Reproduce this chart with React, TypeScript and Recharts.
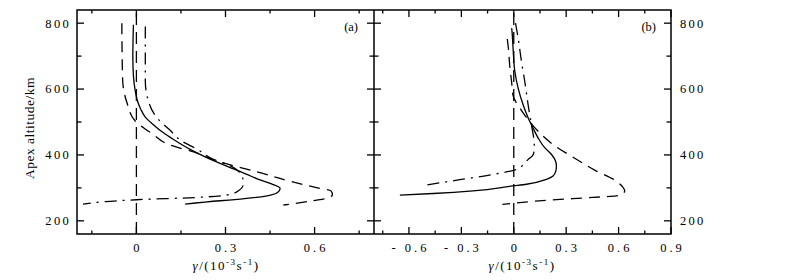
import { LineChart, Line, XAxis, YAxis, ReferenceLine, ReferenceArea } from "recharts";

// axis ticks
const altTicks = [200, 300, 400, 500, 600, 700, 800];
const altLabels = [200, 400, 600, 800];
const gammaTicksA = [-0.15, 0, 0.15, 0.3, 0.45, 0.6, 0.75];
const gammaLabelsA = [0, 0.3, 0.6];
const gammaTicksB = [-0.75, -0.6, -0.45, -0.3, -0.15, 0, 0.15, 0.3, 0.45, 0.6, 0.75, 0.9];
const gammaLabelsB = [-0.6, -0.3, 0, 0.3, 0.6, 0.9];

// panel (a)
const solidAltA = [795, 700, 640, 595, 563, 538, 515, 492, 468, 447, 417, 392, 366, 341, 326, 312, 298, 286, 276, 266, 261, 251];
const solidGammaA = [-0.01, -0.012, -0.01, -0.004, 0.004, 0.015, 0.03, 0.057, 0.09, 0.125, 0.181, 0.237, 0.304, 0.372, 0.411, 0.455, 0.484, 0.475, 0.44, 0.35, 0.282, 0.164];
const dashAltA = [800, 700, 623, 559, 503, 482, 465, 429, 410, 380, 349, 319, 300, 291, 280, 271, 261, 248];
const dashGammaA = [-0.049, -0.048, -0.046, -0.032, -0.004, 0.025, 0.052, 0.116, 0.19, 0.276, 0.405, 0.523, 0.61, 0.655, 0.66, 0.652, 0.595, 0.495];
const dotDashAltA = [790, 700, 625, 565, 513, 477, 442, 417, 387, 370, 350, 330, 311, 292, 278, 271, 264, 251];
const dotDashGammaA = [0.03, 0.03, 0.03, 0.04, 0.069, 0.111, 0.153, 0.205, 0.259, 0.31, 0.345, 0.358, 0.36, 0.345, 0.304, 0.203, 0, -0.18];

// panel (b)
const solidAltB = [785, 775, 724, 654, 603, 553, 513, 482, 452, 422, 402, 380, 366, 350, 336, 326, 311, 306, 291, 283, 278];
const solidGammaB = [-0.012, -0.01, -0.004, 0.006, 0.025, 0.053, 0.082, 0.11, 0.139, 0.177, 0.215, 0.24, 0.244, 0.24, 0.225, 0.187, 0.073, -0.004, -0.233, -0.461, -0.652];
const dashAltB = [752, 720, 670, 620, 580, 558, 543, 505, 472, 430, 390, 354, 324, 305, 291, 280, 276, 271, 263, 250];
const dashGammaB = [-0.037, -0.03, -0.023, -0.012, -0.004, 0.015, 0.034, 0.085, 0.139, 0.229, 0.349, 0.463, 0.577, 0.62, 0.635, 0.62, 0.587, 0.453, 0.206, -0.065];
const dotDashAltB = [800, 755, 684, 623, 553, 492, 442, 420, 400, 385, 368, 356, 341, 324, 308];
const dotDashGammaB = [0.01, 0.025, 0.044, 0.063, 0.082, 0.101, 0.116, 0.118, 0.11, 0.08, 0.05, 0.015, -0.118, -0.318, -0.509];

const toPoints = (gamma: number[], alt: number[]) => gamma.map((g, i) => ({ g, alt: alt[i] }));

const FONT = '"Liberation Serif", "Times New Roman", serif';
const INK = "#000";
const PLOT_TOP = 10;
const A_RIGHT = 374;
const B_LEFT = 374;
const LONG_DASH = "11 7";
const DOT_DASH = "12 6 2 6";

const isIn = (list: number[], v: number) => list.some((t) => Math.abs(t - v) < 1e-9);

function fmtGamma(v: number) {
  if (Math.abs(v) < 1e-9) return "0";
  return v < 0 ? `- ${Math.abs(v).toFixed(1)}` : v.toFixed(1);
}

// ticks point inward, drawn on both the bottom and top edge
function GammaTick(props: any) {
  const { x, y, payload, labels } = props;
  const major = isIn(labels, payload.value);
  const len = major ? 7 : 3.5;
  return (
    <g>
      <line x1={x} x2={x} y1={y} y2={y - len} stroke={INK} strokeWidth={1.3} />
      <line x1={x} x2={x} y1={PLOT_TOP} y2={PLOT_TOP + len} stroke={INK} strokeWidth={1.3} />
      {major && (
        <text x={x + 1.5} y={y + 18} textAnchor="middle" fontFamily={FONT} fontSize={12.5} letterSpacing={3} fill={INK}>
          {fmtGamma(payload.value)}
        </text>
      )}
    </g>
  );
}

function AltTick(props: any) {
  const { x, y, payload, side, opposite } = props;
  const major = isIn(altLabels, payload.value);
  const len = major ? 7 : 4.5;
  const dir = side === "left" ? 1 : -1;
  return (
    <g>
      <line x1={x} x2={x + dir * len} y1={y} y2={y} stroke={INK} strokeWidth={1.3} />
      <line x1={opposite} x2={opposite - dir * len} y1={y} y2={y} stroke={INK} strokeWidth={1.3} />
      {major && (
        <text
          x={side === "left" ? x - 6 : x + 9}
          y={y}
          dy="0.35em"
          textAnchor={side === "left" ? "end" : "start"}
          fontFamily={FONT}
          fontSize={12.5}
          letterSpacing={2.3}
          fill={INK}
        >
          {payload.value}
        </text>
      )}
    </g>
  );
}

function GammaTitle({ cx }: { cx: number }) {
  return (
    <text x={cx} y={270} textAnchor="middle" fontFamily={FONT} fontSize={13} letterSpacing={1.5} fill={INK}>
      <tspan fontStyle="italic">γ</tspan>/(10
      <tspan dy={-5} fontSize={9}>-3</tspan>
      <tspan dy={5}>s</tspan>
      <tspan dy={-5} fontSize={9}>-1</tspan>
      <tspan dy={5}>)</tspan>
    </text>
  );
}

export default function App() {
  const solidA = toPoints(solidGammaA, solidAltA);
  const dashA = toPoints(dashGammaA, dashAltA);
  const dotDashA = toPoints(dotDashGammaA, dotDashAltA);
  const solidB = toPoints(solidGammaB, solidAltB);
  const dashB = toPoints(dashGammaB, dashAltB);
  const dotDashB = toPoints(dotDashGammaB, dotDashAltB);

  const lineProps = {
    dataKey: "alt",
    type: "monotoneY" as const,
    stroke: INK,
    strokeWidth: 1.3,
    dot: false,
    activeDot: false,
    isAnimationActive: false,
  };

  return (
    <div style={{ position: "absolute", left: 0, top: 0, width: 794, height: 280, background: "#fff" }}>
      <div style={{ position: "absolute", left: 0, top: 0 }}>
        <LineChart width={374} height={280} margin={{ top: 10, right: 0, bottom: 0, left: 0 }}>
          <XAxis
            type="number"
            dataKey="g"
            domain={[-0.2, 0.8]}
            ticks={gammaTicksA}
            interval={0}
            allowDataOverflow
            axisLine={false}
            tickLine={false}
            tickSize={0}
            tickMargin={0}
            height={46}
            tick={<GammaTick labels={gammaLabelsA} />}
          />
          <YAxis
            type="number"
            domain={[160, 840]}
            ticks={altTicks}
            interval={0}
            allowDataOverflow
            axisLine={false}
            tickLine={false}
            tickSize={0}
            tickMargin={0}
            width={77}
            tick={<AltTick side="left" opposite={A_RIGHT} />}
          />
          <ReferenceArea x1={-0.2} x2={0.8} y1={160} y2={840} fill="none" stroke={INK} strokeWidth={1.5} />
          <ReferenceLine x={0} stroke={INK} strokeWidth={1.3} strokeDasharray="12 7" />
          <Line {...lineProps} data={solidA} />
          <Line {...lineProps} data={dashA} strokeDasharray={LONG_DASH} />
          <Line {...lineProps} data={dotDashA} strokeDasharray={DOT_DASH} />
          <text x={358} y={31} textAnchor="end" fontFamily={FONT} fontSize={12.5} fill={INK}>(a)</text>
          <text transform="translate(34,128) rotate(-90)" textAnchor="middle" fontFamily={FONT} fontSize={13.5} letterSpacing={0.5} fill={INK}>
            Apex altitude/km
          </text>
          <GammaTitle cx={226} />
        </LineChart>
      </div>
      <div style={{ position: "absolute", left: B_LEFT, top: 0 }}>
        <LineChart width={420} height={280} margin={{ top: 10, right: 0, bottom: 0, left: 0 }}>
          <XAxis
            type="number"
            dataKey="g"
            domain={[-0.8, 0.9]}
            ticks={gammaTicksB}
            interval={0}
            allowDataOverflow
            axisLine={false}
            tickLine={false}
            tickSize={0}
            tickMargin={0}
            height={46}
            tick={<GammaTick labels={gammaLabelsB} />}
          />
          <YAxis
            type="number"
            orientation="right"
            domain={[160, 840]}
            ticks={altTicks}
            interval={0}
            allowDataOverflow
            axisLine={false}
            tickLine={false}
            tickSize={0}
            tickMargin={0}
            width={123}
            tick={<AltTick side="right" opposite={0} />}
          />
          <ReferenceArea x1={-0.8} x2={0.9} y1={160} y2={840} fill="none" stroke={INK} strokeWidth={1.5} />
          <ReferenceLine x={0} stroke={INK} strokeWidth={1.3} strokeDasharray="12 7" />
          <Line {...lineProps} data={solidB} />
          <Line {...lineProps} data={dashB} strokeDasharray={LONG_DASH} />
          <Line {...lineProps} data={dotDashB} strokeDasharray={DOT_DASH} />
          <text x={282} y={31} textAnchor="end" fontFamily={FONT} fontSize={12.5} fill={INK}>(b)</text>
          <GammaTitle cx={148} />
        </LineChart>
      </div>
    </div>
  );
}
